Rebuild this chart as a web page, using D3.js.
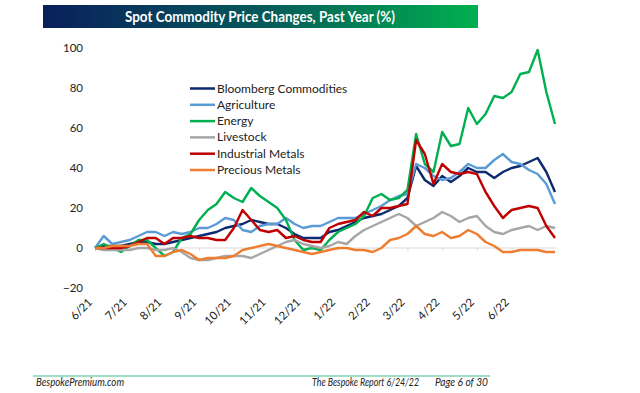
<!DOCTYPE html>
<html><head><meta charset="utf-8">
<script src="https://cdn.jsdelivr.net/npm/d3@7"></script>
<style>
html,body{margin:0;padding:0;background:#fff;}
svg{display:block;font-family:Lato,"Open Sans",sans-serif;}
</style></head>
<body><svg id="c" width="640" height="393"></svg>
<script>
const monthLabels = ["6/21","7/21","8/21","9/21","10/21","11/21","12/21","1/22","2/22","3/22","4/22","5/22","6/22"];
const yTicks = [-20,0,20,40,60,80,100];
const seriesNames = ["Bloomberg Commodities","Agriculture","Energy","Livestock","Industrial Metals","Precious Metals"];
const seriesColors = ["#0c2a6e","#5b9bd5","#00b050","#a6a6a6","#c00000","#ed7d31"];
// weekly readings, % change over past year
const bloomberg = [0,1,1,1,2,3,3,2,2,3,4,5,6,7,8,10,11,12,14,13,12,12,10,7,5,5,5,8,9,11,13,15,16,17,19,21,25,41,34,31,36,33,36,40,38,38,35,38,40,41,43,45,38,28];
const agriculture = [0,6,2,3,4,6,8,8,6,8,7,8,10,10,12,15,14,9,8,11,12,12,15,12,10,11,11,13,15,15,15,17,19,21,24,26,27,42,40,36,34,35,38,42,40,40,44,47,43,42,39,37,32,22];
const energy = [0,2,0,-2,1,4,4,0,-4,-2,5,7,14,19,22,28,25,23,30,26,23,20,14,4,-1,0,-1,4,8,10,12,16,25,27,24,25,29,57,42,38,58,51,52,70,62,67,76,75,78,87,88,99,78,62];
const livestock = [0,-1,-1,-1,-1,0,0,-1,-1,0,-2,-5,-6,-6,-5,-4,-4,-4,-5,-3,-1,1,3,4,2,1,0,1,3,2,6,9,11,13,15,17,15,11,13,15,18,16,13,15,16,11,8,7,9,10,11,9,11,10];
const industrial = [0,0,0,0,1,3,5,5,2,5,5,6,5,5,4,4,10,19,14,9,8,9,5,6,4,3,3,10,12,13,14,18,16,20,20,21,22,54,47,32,42,38,37,38,37,28,21,15,19,20,21,20,11,5];
const precious = [0,0,1,1,1,2,2,-4,-4,-2,-1,-3,-6,-5,-5,-5,-4,-1,0,1,2,1,0,-1,-2,-3,-2,-1,0,0,-1,-1,-2,0,4,5,7,11,7,6,8,5,6,9,7,3,1,-2,-2,-1,-1,-1,-2,-2];
const allSeries = [bloomberg, agriculture, energy, livestock, industrial, precious];
const labelEvery = 4;

const svg = d3.select("#c");
// title bar
const defs = svg.append("defs");
const grad = defs.append("linearGradient").attr("id","tg").attr("x1","0").attr("x2","1");
grad.append("stop").attr("offset","0%").attr("stop-color","#0a1f5c");
grad.append("stop").attr("offset","50%").attr("stop-color","#05585a");
grad.append("stop").attr("offset","100%").attr("stop-color","#00b04f");
svg.append("rect").attr("x",43).attr("y",5).attr("width",435).attr("height",23).attr("fill","url(#tg)");
svg.append("text").attr("x",125).attr("y",22).attr("fill","#fff")
  .attr("font-size",15.5).attr("font-weight","bold")
  .attr("textLength",270).attr("lengthAdjust","spacingAndGlyphs")
  .text("Spot Commodity Price Changes, Past Year (%)");

const n = bloomberg.length;
const x = d3.scaleLinear().domain([0, n-1]).range([95, 555]);
const y = d3.scaleLinear().domain([-20, 100]).range([288, 48]);

// y axis labels
const yAxis = d3.axisLeft(y).tickValues(yTicks).tickSize(0).tickPadding(0);
const gy = svg.append("g").attr("transform","translate(83,0)").call(yAxis);
gy.select(".domain").remove();
gy.selectAll("text").attr("font-size",11.5).attr("fill","#222").attr("font-family","Lato,sans-serif");

// zero axis line with ticks
const tickIdx = d3.range(0, n, labelEvery).slice(0, monthLabels.length);
const xAxis = d3.axisBottom(x).tickValues(tickIdx).tickSize(3).tickFormat("");
const gx = svg.append("g").attr("transform",`translate(0,${y(0)})`).call(xAxis);
gx.select(".domain").attr("stroke","#d9d9d9").attr("d",`M${x(0)},0H${x(n-1)+2}`);
gx.selectAll(".tick line").attr("stroke","#d9d9d9");

// x labels rotated
svg.append("g").selectAll("text").data(tickIdx).join("text")
  .attr("transform", d => `translate(${x(d)-2},${303}) rotate(-45)`)
  .attr("text-anchor","end").attr("font-size",11.5).attr("fill","#222")
  .text((d,i) => monthLabels[i]);

// lines
const line = d3.line().x((d,i)=>x(i)).y(d=>y(d));
svg.append("g").selectAll("path").data(allSeries).join("path")
  .attr("d", line).attr("fill","none").attr("stroke",(d,i)=>seriesColors[i])
  .attr("stroke-width",2.4).attr("stroke-linejoin","round");

// legend
const lg = svg.append("g");
seriesNames.forEach((nm,i) => {
  const yy = 88.5 + i*16.3;
  lg.append("line").attr("x1",190).attr("x2",215).attr("y1",yy).attr("y2",yy)
    .attr("stroke",seriesColors[i]).attr("stroke-width",2.5);
  lg.append("text").attr("x",217).attr("y",yy+4).attr("font-size",12).attr("fill","#222").text(nm);
});

// footer
svg.append("line").attr("x1",33).attr("x2",490).attr("y1",376).attr("y2",376).attr("stroke","#7fd3ad").attr("stroke-width",1.5);
const ft = svg.append("g").attr("font-size",10.5).attr("font-style","italic").attr("fill","#222").attr("lengthAdjust","spacingAndGlyphs");
ft.append("text").attr("x",36).attr("y",386).attr("textLength",88).attr("lengthAdjust","spacingAndGlyphs").text("BespokePremium.com");
ft.append("text").attr("x",312).attr("y",386).attr("textLength",107).attr("lengthAdjust","spacingAndGlyphs").text("The Bespoke Report 6/24/22");
ft.append("text").attr("x",435).attr("y",386).attr("textLength",53).attr("lengthAdjust","spacingAndGlyphs").text("Page 6 of 30");
</script>
</body></html>
